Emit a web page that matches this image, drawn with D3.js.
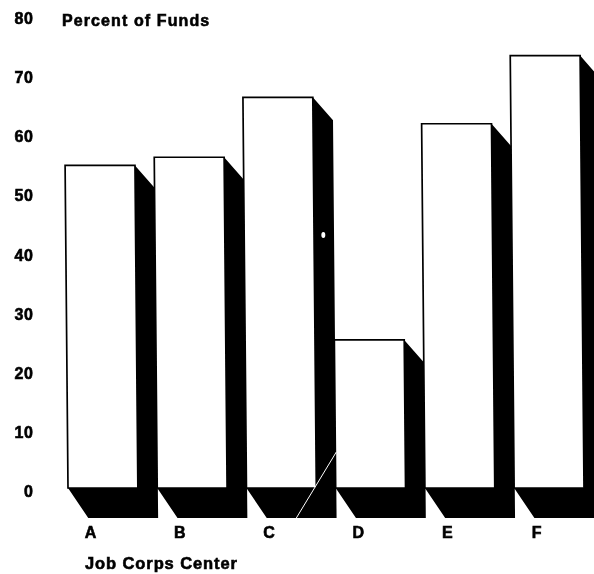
<!DOCTYPE html>
<html>
<head>
<meta charset="utf-8">
<script src="https://cdn.jsdelivr.net/npm/d3@7"></script>
<style>
html,body{margin:0;padding:0;background:#fff}
svg{display:block}
text{font-family:"Liberation Sans",Arial,sans-serif;font-weight:700;fill:#000;stroke:#000;stroke-width:.6px}
</style>
</head>
<body>
<script>
const categories = ["A","B","C","D","E","F"];
const values = [54.9, 56.3, 66.5, 25.2, 62, 73.6];
const yTicks = [0,10,20,30,40,50,60,70,80];
const yTitle = "Percent of Funds";
const xTitle = "Job Corps Center";

const W = 594, H = 574;
const depthX = 20, depthTop = 23, depthFloor = 30;
const lean = 0.009; // the scanned page is slightly sheared
const svg = d3.select("body").append("svg").attr("width",W).attr("height",H);
const defs = svg.append("defs");
defs.append("filter").attr("id","scan").append("feGaussianBlur").attr("stdDeviation",0.35);
const root = svg.append("g").attr("filter","url(#scan)");

const x = d3.scaleBand().domain(categories).range([68,584]).paddingInner(0.217).paddingOuter(0);
const y = d3.scaleLinear().domain([0,80]).range([488,18]);
const yLabel = d3.scaleLinear().domain([0,80]).range([491,18]);

const barLayer = root.append("g").attr("transform",`matrix(1,0,${lean},1,${-lean*y(0)},0)`);
const bars = barLayer.selectAll("g").data(categories).join("g");
bars.append("path")
  .attr("fill","#000")
  .attr("d",(c,i)=>{
    const x0=x(c), x1=x0+x.bandwidth(), t=y(values[i]), b=y(0);
    return d3.line()([[x0,b],[x0+depthX,b+depthFloor],[x1+depthX,b+depthFloor],[x1+depthX,t+depthTop],[x1,t],[x1,b]])+"Z";
  });
bars.append("rect")
  .attr("x",c=>x(c)).attr("y",(c,i)=>y(values[i]))
  .attr("width",x.bandwidth()).attr("height",(c,i)=>y(0)-y(values[i]))
  .attr("fill","#fff").attr("stroke","#000").attr("stroke-width",1.7);

root.append("g").selectAll("text").data(yTicks).join("text")
  .attr("x",33.5).attr("text-anchor","end")
  .attr("y",d=>yLabel(d)+6)
  .attr("font-size",16).attr("letter-spacing",0.6)
  .text(d=>d);

root.append("text").attr("x",62).attr("y",26).attr("font-size",16).attr("letter-spacing",1.1).text(yTitle);

root.append("g").selectAll("text").data(categories).join("text")
  .attr("x",c=>x(c)+22.5).attr("y",538).attr("text-anchor","middle")
  .attr("font-size",16)
  .text(c=>c);

root.append("text").attr("x",85).attr("y",569).attr("font-size",16.5).attr("letter-spacing",0.9).text(xTitle);

// scan scratch across the floor of bar C / D, and a speck in C's side
const cRight = x("C")+x.bandwidth();
root.append("path").attr("fill","none").attr("stroke","#fff").attr("stroke-width",1)
  .attr("d",d3.line()([[cRight-20,y(0)+30],[cRight+20,y(0)-36]]));
root.append("ellipse").attr("cx",cRight+7).attr("cy",y(40)-18).attr("rx",2).attr("ry",3).attr("fill","#fff");
</script>
</body>
</html>
